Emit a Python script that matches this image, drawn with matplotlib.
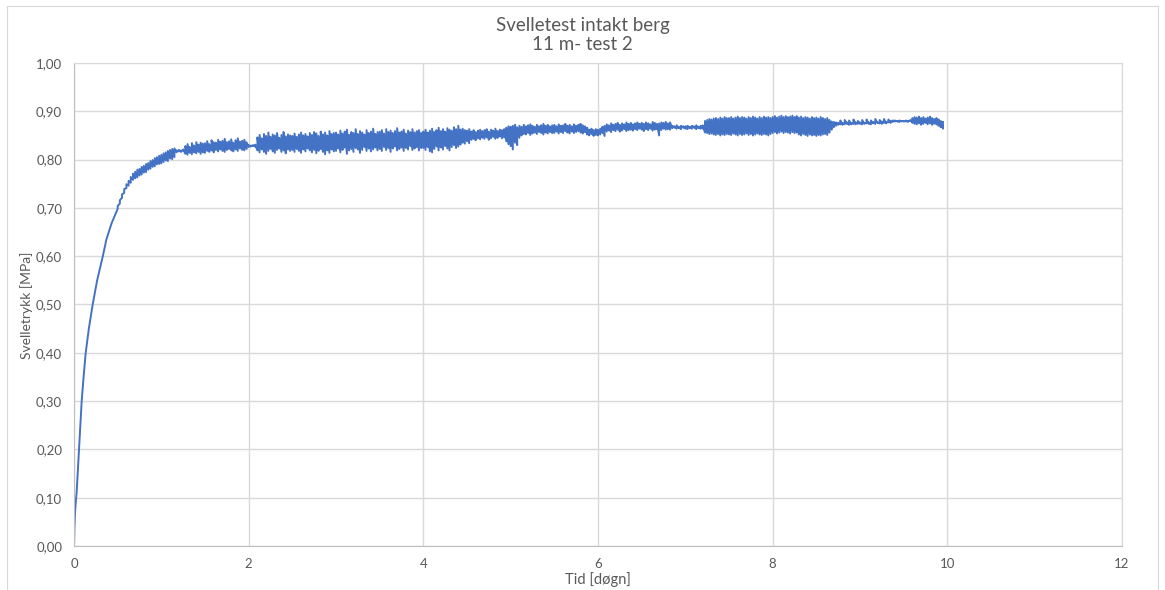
import numpy as np
import matplotlib
matplotlib.use("Agg")
from matplotlib import pyplot as plt
from matplotlib.ticker import FuncFormatter, MultipleLocator
from matplotlib.patches import Rectangle

# Svelletrykk de første timene (jevn kurve), tid i døgn, trykk i MPa
rise_tid = [0.000, 0.005, 0.012, 0.020, 0.030, 0.045, 0.057, 0.072, 0.088, 0.110,
            0.134, 0.170, 0.214, 0.265, 0.330, 0.370, 0.430]
rise_trykk = [0.000, 0.040, 0.070, 0.090, 0.110, 0.160, 0.200, 0.250, 0.300, 0.350,
              0.400, 0.450, 0.500, 0.550, 0.600, 0.634, 0.668]

# Resten av loggen: min/maks trykk (kPa) i hvert tidsintervall
tid = [0.500, 0.525, 0.550, 0.575, 0.600, 0.625, 0.650, 0.675, 0.700, 0.725, 0.750, 0.775, 0.800, 0.825, 0.850, 0.875, 0.900, 0.925, 0.950, 0.975,
       1.000, 1.025, 1.050, 1.075, 1.100, 1.125, 1.150, 1.175, 1.200, 1.225, 1.250, 1.275, 1.300, 1.325, 1.350, 1.375, 1.400, 1.425, 1.450, 1.475,
       1.500, 1.525, 1.550, 1.575, 1.600, 1.625, 1.650, 1.675, 1.700, 1.725, 1.750, 1.775, 1.800, 1.825, 1.850, 1.875, 1.900, 1.925, 1.950, 1.975,
       2.000, 2.025, 2.050, 2.075, 2.100, 2.125, 2.150, 2.175, 2.200, 2.225, 2.250, 2.275, 2.300, 2.325, 2.350, 2.375, 2.400, 2.425, 2.450, 2.475,
       2.500, 2.525, 2.550, 2.575, 2.600, 2.625, 2.650, 2.675, 2.700, 2.725, 2.750, 2.775, 2.800, 2.825, 2.850, 2.875, 2.900, 2.925, 2.950, 2.975,
       3.000, 3.025, 3.050, 3.075, 3.100, 3.125, 3.150, 3.175, 3.200, 3.225, 3.250, 3.275, 3.300, 3.325, 3.350, 3.375, 3.400, 3.425, 3.450, 3.475,
       3.500, 3.525, 3.550, 3.575, 3.600, 3.625, 3.650, 3.675, 3.700, 3.725, 3.750, 3.775, 3.800, 3.825, 3.850, 3.875, 3.900, 3.925, 3.950, 3.975,
       4.000, 4.025, 4.050, 4.075, 4.100, 4.125, 4.150, 4.175, 4.200, 4.225, 4.250, 4.275, 4.300, 4.325, 4.350, 4.375, 4.400, 4.425, 4.450, 4.475,
       4.500, 4.525, 4.550, 4.575, 4.600, 4.625, 4.650, 4.675, 4.700, 4.725, 4.750, 4.775, 4.800, 4.825, 4.850, 4.875, 4.900, 4.925, 4.950, 4.975,
       5.000, 5.025, 5.050, 5.075, 5.100, 5.125, 5.150, 5.175, 5.200, 5.225, 5.250, 5.275, 5.300, 5.325, 5.350, 5.375, 5.400, 5.425, 5.450, 5.475,
       5.500, 5.525, 5.550, 5.575, 5.600, 5.625, 5.650, 5.675, 5.700, 5.725, 5.750, 5.775, 5.800, 5.825, 5.850, 5.875, 5.900, 5.925, 5.950, 5.975,
       6.000, 6.025, 6.050, 6.075, 6.100, 6.125, 6.150, 6.175, 6.200, 6.225, 6.250, 6.275, 6.300, 6.325, 6.350, 6.375, 6.400, 6.425, 6.450, 6.475,
       6.500, 6.525, 6.550, 6.575, 6.600, 6.625, 6.650, 6.675, 6.700, 6.725, 6.750, 6.775, 6.800, 6.825, 6.850, 6.875, 6.900, 6.925, 6.950, 6.975,
       7.000, 7.025, 7.050, 7.075, 7.100, 7.125, 7.150, 7.175, 7.200, 7.225, 7.250, 7.275, 7.300, 7.325, 7.350, 7.375, 7.400, 7.425, 7.450, 7.475,
       7.500, 7.525, 7.550, 7.575, 7.600, 7.625, 7.650, 7.675, 7.700, 7.725, 7.750, 7.775, 7.800, 7.825, 7.850, 7.875, 7.900, 7.925, 7.950, 7.975,
       8.000, 8.025, 8.050, 8.075, 8.100, 8.125, 8.150, 8.175, 8.200, 8.225, 8.250, 8.275, 8.300, 8.325, 8.350, 8.375, 8.400, 8.425, 8.450, 8.475,
       8.500, 8.525, 8.550, 8.575, 8.600, 8.625, 8.650, 8.675, 8.700, 8.725, 8.750, 8.775, 8.800, 8.825, 8.850, 8.875, 8.900, 8.925, 8.950, 8.975,
       9.000, 9.025, 9.050, 9.075, 9.100, 9.125, 9.150, 9.175, 9.200, 9.225, 9.250, 9.275, 9.300, 9.325, 9.350, 9.375, 9.400, 9.425, 9.450, 9.475,
       9.500, 9.525, 9.550, 9.575, 9.600, 9.625, 9.650, 9.675, 9.700, 9.725, 9.750, 9.775, 9.800, 9.825, 9.850, 9.875, 9.900, 9.925, 9.950]

trykk_min = [698, 709, 721, 731, 741, 746, 752, 758, 761, 763, 767, 769, 773, 774, 779, 781, 785, 786, 790, 791,
             792, 795, 798, 797, 802, 801, 805, 815, 817, 816, 818, 812, 810, 814, 811, 815, 813, 816, 812, 815,
             814, 818, 816, 819, 815, 820, 817, 821, 818, 816, 820, 822, 819, 817, 821, 818, 823, 820, 819, 822,
             826, 827, 828, 827, 819, 815, 821, 816, 812, 818, 822, 817, 814, 820, 823, 816, 819, 813, 821, 818,
             820, 816, 822, 818, 814, 821, 817, 823, 819, 815, 820, 813, 818, 822, 816, 811, 819, 814, 821, 817,
             818, 823, 815, 820, 825, 812, 819, 822, 816, 824, 821, 814, 820, 826, 818, 823, 817, 821, 825, 819,
             822, 818, 826, 820, 824, 816, 823, 827, 819, 822, 825, 818, 824, 821, 828, 820, 823, 826, 819, 824,
             824, 820, 826, 817, 815, 822, 827, 819, 825, 821, 828, 823, 819, 826, 830, 824, 827, 831, 835, 833,
             838, 834, 841, 843, 840, 844, 842, 845, 843, 846, 841, 844, 847, 843, 845, 848, 844, 846, 838, 832,
             828, 821, 835, 830, 845, 850, 853, 852, 855, 851, 854, 856, 853, 857, 855, 852, 856, 854, 857, 855,
             855, 858, 854, 857, 855, 859, 856, 854, 858, 855, 857, 859, 856, 854, 857, 852, 850, 853, 849, 851,
             850, 852, 855, 849, 858, 860, 857, 861, 859, 862, 858, 860, 863, 859, 861, 862, 860, 863, 861, 864,
             862, 859, 863, 861, 864, 860, 862, 863, 850, 861, 864, 862, 863, 862, 865, 866, 864, 865, 863, 866,
             864, 863, 865, 864, 866, 863, 865, 864, 864, 856, 855, 853, 854, 852, 851, 853, 850, 852, 851, 853,
             852, 851, 854, 852, 850, 853, 851, 852, 854, 851, 853, 850, 852, 854, 852, 851, 853, 852, 850, 853,
             855, 857, 854, 856, 858, 855, 857, 856, 854, 857, 855, 856, 852, 850, 853, 851, 849, 852, 850, 851,
             849, 851, 850, 852, 853, 851, 856, 862, 867, 870, 872, 873, 872, 873, 874, 872, 873, 874, 873, 874,
             874, 873, 874, 875, 874, 873, 875, 874, 876, 875, 874, 876, 875, 877, 876, 878, 879, 879, 878, 879,
             879, 879, 878, 880, 876, 874, 873, 875, 872, 874, 876, 873, 875, 872, 874, 873, 870, 867, 864]

trykk_maks = [704, 716, 728, 739, 749, 756, 764, 771, 775, 779, 781, 785, 787, 791, 793, 797, 799, 803, 805, 808,
              810, 813, 815, 818, 820, 822, 823, 819, 820, 819, 821, 828, 832, 826, 834, 829, 836, 831, 835, 833,
              834, 838, 832, 840, 836, 835, 841, 837, 839, 843, 836, 838, 842, 835, 840, 844, 837, 839, 841, 836,
              830, 829, 830, 831, 846, 851, 844, 853, 849, 856, 847, 852, 850, 855, 845, 851, 857, 848, 852, 850,
              849, 854, 847, 852, 856, 850, 853, 848, 855, 851, 857, 854, 849, 858, 852, 856, 850, 859, 853, 855,
              856, 852, 860, 854, 858, 862, 851, 857, 855, 863, 853, 859, 856, 852, 861, 855, 858, 864, 853, 857,
              858, 861, 854, 863, 857, 860, 855, 859, 865, 856, 858, 862, 854, 860, 857, 863, 856, 859, 861, 855,
              858, 862, 856, 860, 864, 857, 861, 866, 859, 863, 858, 865, 862, 860, 867, 863, 870, 862, 864, 861,
              860, 863, 858, 861, 857, 860, 862, 859, 861, 863, 858, 862, 860, 864, 859, 862, 861, 863, 866, 869,
              868, 870, 872, 867, 870, 868, 872, 869, 871, 873, 870, 868, 872, 869, 871, 874, 870, 872, 869, 871,
              872, 869, 873, 870, 871, 874, 870, 872, 869, 873, 870, 872, 874, 871, 869, 866, 862, 864, 861, 863,
              862, 864, 868, 870, 873, 871, 875, 872, 874, 876, 872, 875, 873, 877, 874, 876, 873, 875, 877, 874,
              876, 874, 877, 875, 873, 878, 876, 874, 875, 877, 876, 878, 875, 877, 870, 869, 871, 868, 870, 869,
              869, 870, 868, 870, 869, 871, 868, 870, 871, 880, 882, 884, 883, 885, 886, 884, 887, 885, 888, 886,
              886, 888, 885, 887, 889, 886, 888, 887, 885, 888, 886, 889, 887, 885, 888, 886, 889, 887, 888, 886,
              888, 890, 887, 889, 891, 888, 890, 888, 889, 891, 888, 890, 887, 889, 886, 888, 887, 885, 888, 886,
              887, 885, 888, 886, 884, 886, 882, 879, 878, 877, 876, 881, 876, 882, 877, 881, 876, 883, 877, 880,
              877, 882, 876, 883, 877, 881, 878, 884, 877, 882, 879, 884, 878, 883, 880, 881, 881, 880, 881, 880,
              880, 881, 880, 882, 886, 888, 887, 889, 886, 888, 885, 887, 889, 886, 884, 886, 883, 880, 878]

x_ticks = [0, 2, 4, 6, 8, 10, 12]

# min -> maks i hvert intervall, slik at støyen i loggen vises
x = np.concatenate([rise_tid, np.repeat(tid, 2)])
y = np.concatenate([rise_trykk,
                    np.column_stack([trykk_min, trykk_maks]).ravel() / 1000.0])

grey = '#595959'
grid = '#D9D9D9'
blue = '#4472C4'
fnt = 'Lato'

fig = plt.figure(figsize=(11.65, 5.90), dpi=100)
fig.patches.append(Rectangle((7/1165, -0.01), 1151/1165, 1 - 6/590 + 0.01,
                             transform=fig.transFigure, fill=False,
                             edgecolor=grid, lw=0.8))

ax = fig.add_axes([74/1165, 1 - 546/590, 1048/1165, 483/590])
ax.plot(x, y, color=blue, lw=1.4)

ax.set_xlim(0, 12)
ax.set_ylim(0, 1.0)
ax.set_xticks(x_ticks)
ax.yaxis.set_major_locator(MultipleLocator(0.1))
ax.yaxis.set_major_formatter(FuncFormatter(lambda v, p: f"{v:.2f}".replace('.', ',')))
ax.xaxis.set_major_formatter(FuncFormatter(lambda v, p: f"{v:g}"))
ax.grid(True, color=grid, lw=1.0)
ax.set_axisbelow(True)
for s in ['top', 'right']:
    ax.spines[s].set_color(grid)
ax.spines['left'].set_color('#BFBFBF')
ax.spines['bottom'].set_color('#BFBFBF')
ax.tick_params(length=0, colors=grey, labelsize=9.5)
ax.tick_params(axis='x', pad=9)
ax.tick_params(axis='y', pad=8.5)
for lab in ax.get_xticklabels() + ax.get_yticklabels():
    lab.set_family(fnt)

fig.text(0.5, 1 - 26/590, 'Svelletest intakt berg', ha='center', va='center',
         fontsize=13.5, color=grey, family=fnt)
fig.text(0.5, 1 - 44/590, '11 m- test 2', ha='center', va='center',
         fontsize=13.5, color=grey, family=fnt)
fig.text(598/1165, 1 - 580/590, 'Tid [døgn]', ha='center', va='center',
         fontsize=10.5, color=grey, family=fnt)
fig.text(27/1165, 1 - 305/590, 'Svelletrykk [MPa]', ha='center', va='center',
         rotation=90, fontsize=10, color=grey, family=fnt)

plt.savefig('out.png', dpi=100)
